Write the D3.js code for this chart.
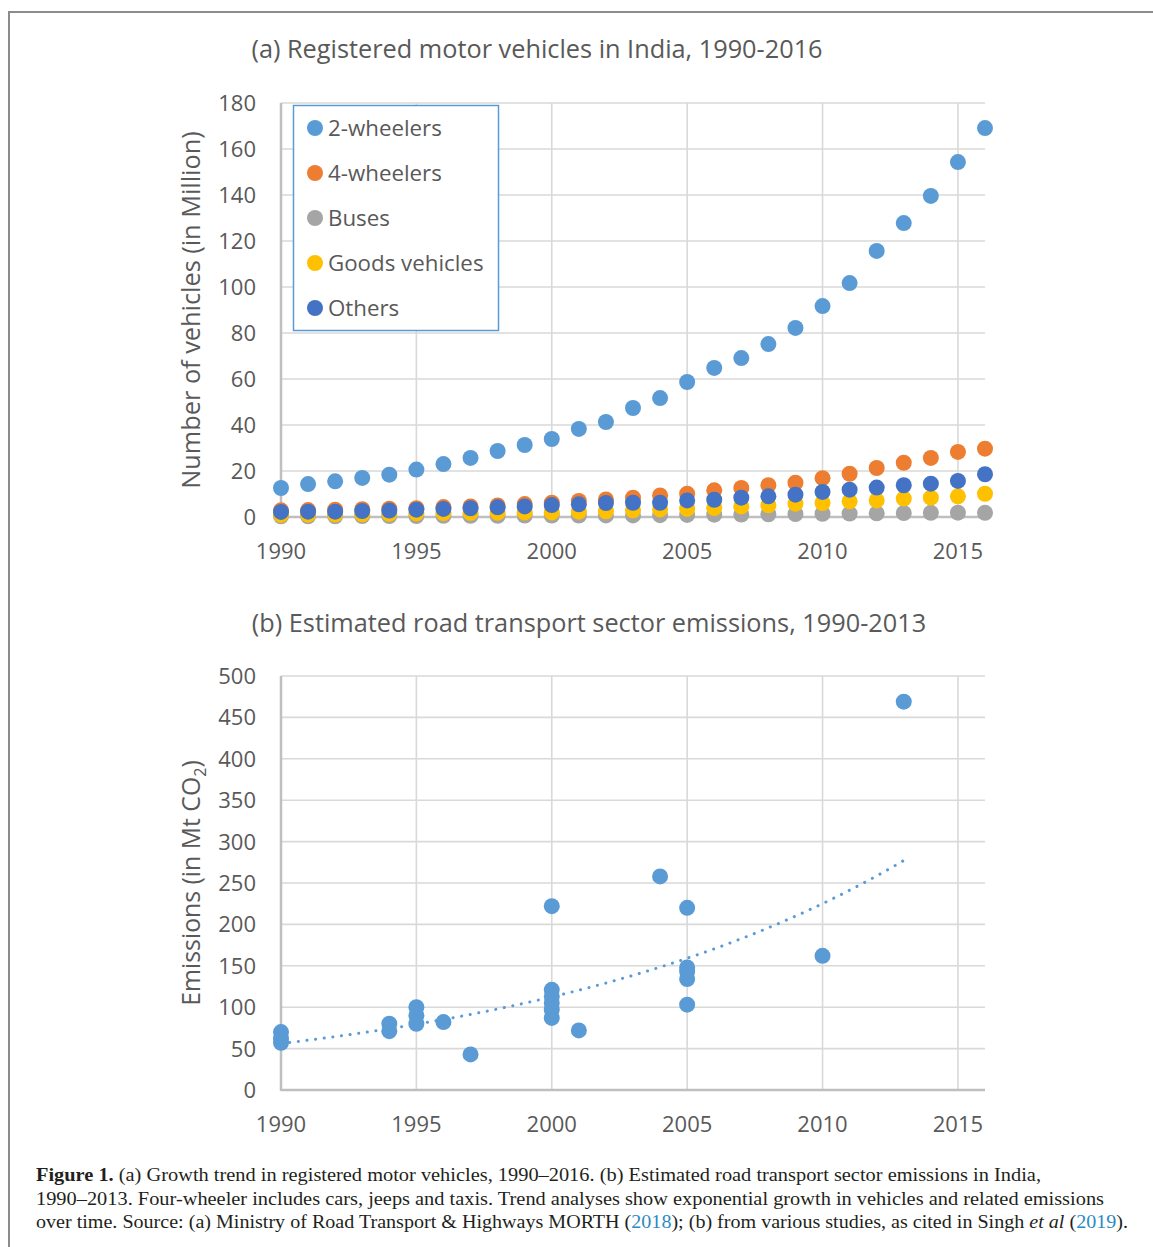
<!DOCTYPE html>
<html>
<head>
<meta charset="utf-8">
<script src="https://cdn.jsdelivr.net/npm/d3@7"></script>
<style>
  body { margin: 0; background: #fff; }
  svg text { font-family: "Open Sans", sans-serif; fill: #595959; }
  .cap { font-family: "Liberation Serif", serif; fill: #231f20; font-size: 19.5px; }
</style>
</head>
<body>
<svg width="1153" height="1247"></svg>
<script>
// (a) registered vehicles, million
const years = [1990, 1991, 1992, 1993, 1994, 1995, 1996, 1997, 1998, 1999, 2000, 2001, 2002,
  2003, 2004, 2005, 2006, 2007, 2008, 2009, 2010, 2011, 2012, 2013, 2014, 2015, 2016];
const twoWheelers = [12.6, 14.3, 15.5, 17.0, 18.4, 20.6, 23.0, 25.7, 28.7, 31.3, 33.9, 38.3, 41.3,
  47.4, 51.7, 58.7, 64.8, 69.1, 75.2, 82.2, 91.7, 101.7, 115.7, 127.8, 139.6, 154.3, 169.1];
const fourWheelers = [2.9, 3.0, 3.2, 3.4, 3.6, 3.8, 4.3, 4.6, 5.0, 5.6, 6.2, 7.0, 7.6,
  8.4, 9.4, 10.1, 11.6, 12.6, 13.8, 14.9, 16.9, 18.8, 21.3, 23.6, 25.7, 28.3, 29.7];
const buses = [0.3, 0.3, 0.3, 0.4, 0.4, 0.4, 0.5, 0.5, 0.5, 0.6, 0.6, 0.6, 0.7,
  0.7, 0.8, 0.9, 1.0, 1.1, 1.2, 1.3, 1.4, 1.5, 1.6, 1.7, 1.8, 1.9, 1.8];
const goods = [0.9, 1.0, 1.1, 1.2, 1.4, 1.6, 1.7, 1.8, 1.9, 2.0, 2.0, 2.3, 2.5,
  2.9, 3.3, 3.6, 3.9, 4.6, 5.1, 5.8, 6.1, 6.8, 7.2, 8.0, 8.4, 9.0, 10.1];
const others = [2.2, 2.3, 2.3, 2.6, 2.8, 3.2, 3.5, 3.8, 4.2, 4.6, 5.2, 5.5, 6.1,
  6.2, 6.2, 7.2, 7.5, 8.4, 9.0, 9.7, 10.9, 11.9, 12.8, 13.8, 14.5, 15.7, 18.6];
const seriesNames = ['2-wheelers', '4-wheelers', 'Buses', 'Goods vehicles', 'Others'];
const seriesColors = ['#5b9bd5', '#ed7d31', '#a5a5a5', '#ffc000', '#4472c4'];

// (b) emissions estimates, Mt CO2
const emYears = [1990, 1990, 1990, 1994, 1994, 1995, 1995, 1995, 1996, 1997, 2000, 2000, 2000,
  2000, 2000, 2000, 2001, 2004, 2005, 2005, 2005, 2005, 2005, 2010, 2013];
const emValues = [70, 62, 57, 80, 71, 100, 90, 80, 82, 43, 222, 121, 113,
  105, 97, 87, 72, 258, 220, 148, 143, 134, 103, 162, 469];

const xTicks = [1990, 1995, 2000, 2005, 2010, 2015];
const yTicksA = [0, 20, 40, 60, 80, 100, 120, 140, 160, 180];
const yTicksB = [0, 50, 100, 150, 200, 250, 300, 350, 400, 450, 500];

const svg = d3.select('svg');

// frame
svg.append('path')
  .attr('d', 'M9,1247 V12 H1153')
  .attr('fill', 'none')
  .attr('stroke', '#8c8c8c')
  .attr('stroke-width', 2);

const x = d3.scaleLinear().domain([1990, 2016]).range([281, 985]);

function frame(y, yTicks, title, titleX, titleY) {
  const g = svg.append('g');
  g.append('g').selectAll('line').data(yTicks.slice(1)).join('line')
    .attr('x1', 281).attr('x2', 985)
    .attr('y1', d => y(d)).attr('y2', d => y(d))
    .attr('stroke', '#d9d9d9').attr('stroke-width', 1.6);
  g.append('g').selectAll('line').data(xTicks.slice(1)).join('line')
    .attr('x1', d => x(d)).attr('x2', d => x(d))
    .attr('y1', y.range()[0]).attr('y2', y.range()[1])
    .attr('stroke', '#d9d9d9').attr('stroke-width', 1.6);
  g.append('line')
    .attr('x1', 281).attr('x2', 985).attr('y1', y(0)).attr('y2', y(0))
    .attr('stroke', '#bfbfbf').attr('stroke-width', 2.5);
  g.append('line')
    .attr('x1', 281).attr('x2', 281).attr('y1', y.range()[0] + 1).attr('y2', y.range()[1])
    .attr('stroke', '#bfbfbf').attr('stroke-width', 2.5);
  g.append('g').selectAll('text').data(yTicks).join('text')
    .attr('x', 256).attr('y', d => y(d))
    .attr('dy', '0.36em')
    .attr('text-anchor', 'end')
    .attr('font-size', 22)
    .text(d => d);
  g.append('g').selectAll('text').data(xTicks).join('text')
    .attr('x', d => x(d)).attr('y', y(0) + 42)
    .attr('text-anchor', 'middle')
    .attr('font-size', 22)
    .text(d => d);
  g.append('text')
    .attr('x', titleX).attr('y', titleY)
    .attr('text-anchor', 'middle')
    .attr('font-size', 25.3)
    .text(title);
  return g;
}

// ---- (a)
const yA = d3.scaleLinear().domain([0, 180]).range([517, 103]);
frame(yA, yTicksA, '(a) Registered motor vehicles in India, 1990-2016', 537, 58);

svg.append('text')
  .attr('transform', `translate(200,${(103 + 517) / 2}) rotate(-90)`)
  .attr('text-anchor', 'middle')
  .attr('font-size', 25.3)
  .text('Number of vehicles (in Million)');

const seriesA = [twoWheelers, fourWheelers, buses, goods, others];
seriesA.forEach((vals, i) => {
  svg.append('g').selectAll('circle').data(vals).join('circle')
    .attr('cx', (d, j) => x(years[j]))
    .attr('cy', d => yA(d))
    .attr('r', 8)
    .attr('fill', seriesColors[i]);
});

// legend
const lg = svg.append('g');
lg.append('rect')
  .attr('x', 293.5).attr('y', 105.5).attr('width', 205).attr('height', 225)
  .attr('fill', '#fff').attr('stroke', '#5b9bd5').attr('stroke-width', 1.5);
seriesNames.forEach((name, i) => {
  const ly = 128 + i * 45;
  lg.append('circle').attr('cx', 315).attr('cy', ly).attr('r', 8).attr('fill', seriesColors[i]);
  lg.append('text').attr('x', 328).attr('y', ly).attr('dy', '0.36em')
    .attr('font-size', 22.3).text(name);
});

// ---- (b)
const yB = d3.scaleLinear().domain([0, 500]).range([1090, 676]);
frame(yB, yTicksB, '(b) Estimated road transport sector emissions, 1990-2013', 589, 632);

const yt = svg.append('text')
  .attr('transform', `translate(200,${(676 + 1090) / 2}) rotate(-90)`)
  .attr('text-anchor', 'middle')
  .attr('font-size', 24.8);
yt.append('tspan').text('Emissions (in Mt CO');
yt.append('tspan').attr('font-size', 16).attr('dy', 6).text('2');
yt.append('tspan').attr('dy', -6).text(')');

// exponential trendline (least squares on ln y)
const tMean = d3.mean(emYears);
const lMean = d3.mean(emValues, v => Math.log(v));
const sxy = d3.sum(emYears, (t, i) => (t - tMean) * (Math.log(emValues[i]) - lMean));
const sxx = d3.sum(emYears, t => (t - tMean) ** 2);
const k = sxy / sxx;
const a = lMean - k * tMean;
const trendYears = d3.range(1990, 2013.01, 0.25);
svg.append('path')
  .datum(trendYears)
  .attr('d', d3.line().x(t => x(t)).y(t => yB(Math.exp(a + k * t))))
  .attr('fill', 'none')
  .attr('stroke', '#5b9bd5')
  .attr('stroke-width', 3)
  .attr('stroke-linecap', 'round')
  .attr('stroke-dasharray', '0.1 8.6');

svg.append('g').selectAll('circle').data(emValues).join('circle')
  .attr('cx', (d, i) => x(emYears[i]))
  .attr('cy', d => yB(d))
  .attr('r', 8)
  .attr('fill', '#5b9bd5');

// caption
const capLines = [
  [['Figure 1.', 'b'], [' (a) Growth trend in registered motor vehicles, 1990–2016. (b) Estimated road transport sector emissions in India,']],
  [['1990–2013. Four-wheeler includes cars, jeeps and taxis. Trend analyses show exponential growth in vehicles and related emissions']],
  [['over time. Source: (a) Ministry of Road Transport & Highways MORTH ('], ['2018', 'link'],
   ['); (b) from various studies, as cited in Singh '], ['et al', 'i'], [' ('], ['2019', 'link'], [').']]
];
const capWidths = [1005, 1068, 1092];
capLines.forEach((parts, li) => {
  const t = svg.append('text').attr('class', 'cap').attr('x', 36).attr('y', 1181 + li * 23.5)
    .attr('textLength', capWidths[li]).attr('lengthAdjust', 'spacingAndGlyphs');
  parts.forEach(([s, style]) => {
    const sp = t.append('tspan').text(s);
    if (style === 'b') sp.attr('font-weight', 'bold');
    if (style === 'i') sp.attr('font-style', 'italic');
    if (style === 'link') sp.style('fill', '#2a8ac4');
  });
});
</script>
</body>
</html>
